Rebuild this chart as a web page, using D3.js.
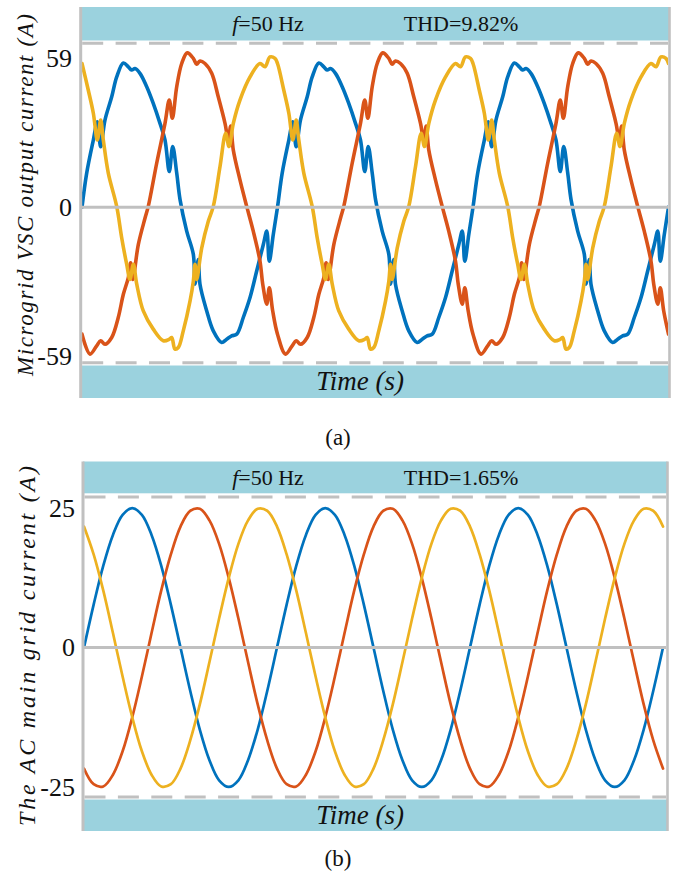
<!DOCTYPE html>
<html>
<head>
<meta charset="utf-8">
<script src="https://cdn.jsdelivr.net/npm/d3@7"></script>
<style>
  html, body { margin: 0; padding: 0; background: #ffffff; }
  svg { display: block; }
  text { font-family: "Liberation Serif", "Times New Roman", serif; fill: #111; }
</style>
</head>
<body>
<svg id="fig" width="673" height="874"></svg>
<script>
// ---------- data ----------
// (a) microgrid VSC phase currents, [time (ms), current (A)]
const vscPhaseA = [
  [0,0],[0.48,13.5],[1.16,26.6],[1.57,33.8],[1.91,23.9],[2.35,34.5],[3.04,43.7],[3.55,51.6],[4.23,57.1],[4.74,55.6],[5.08,54.3],[5.42,54.9],[5.93,53],[6.62,47.7],[7.29,41.1],[7.98,33.2],[8.49,26.6],[8.93,14.1],[9.28,24],[9.69,13.5],[10.03,3],[10.71,-9.5],[11.39,-18.7],[11.56,-30.5],[11.9,-20.7],[12.07,-30.5],[12.76,-41.1],[13.43,-49],[14.29,-53.6],[14.8,-52.3],[15.31,-51],[15.83,-50.3],[16.5,-43.7],[17.19,-35.8],[17.87,-25.3],[18.55,-14.8],[18.9,-9.5],[19.16,-21.4],[19.57,-10.8],
  [20,0],[20.48,13.5],[21.16,26.6],[21.57,33.8],[21.91,23.9],[22.35,34.5],[23.04,43.7],[23.55,51.6],[24.23,57.1],[24.74,55.6],[25.08,54.3],[25.42,54.9],[25.93,53],[26.62,47.7],[27.29,41.1],[27.98,33.2],[28.49,26.6],[28.93,14.1],[29.28,24],[29.69,13.5],[30.03,3],[30.71,-9.5],[31.39,-18.7],[31.56,-30.5],[31.9,-20.7],[32.07,-30.5],[32.76,-41.1],[33.43,-49],[34.29,-53.6],[34.8,-52.3],[35.31,-51],[35.83,-50.3],[36.5,-43.7],[37.19,-35.8],[37.87,-25.3],[38.55,-14.8],[38.9,-9.5],[39.16,-21.4],[39.57,-10.8],
  [40,0],[40.48,13.5],[41.16,26.6],[41.57,33.8],[41.91,23.9],[42.35,34.5],[43.04,43.7],[43.55,51.6],[44.23,57.1],[44.74,55.6],[45.08,54.3],[45.42,54.9],[45.93,53],[46.62,47.7],[47.29,41.1],[47.98,33.2],[48.49,26.6],[48.93,14.1],[49.28,24],[49.69,13.5],[50.03,3],[50.71,-9.5],[51.39,-18.7],[51.56,-30.5],[51.9,-20.7],[52.07,-30.5],[52.76,-41.1],[53.43,-49],[54.29,-53.6],[54.8,-52.3],[55.31,-51],[55.83,-50.3],[56.5,-43.7],[57.19,-35.8],[57.87,-25.3],[58.55,-14.8],[58.9,-9.5],[59.16,-21.4],[59.57,-10.8],[60,0]
];
const vscPhaseB = [
  [0,-50.3],[0.82,-58.2],[1.5,-54.9],[1.91,-52.9],[2.35,-54.3],[3.04,-51.6],[3.71,-43.7],[4.23,-34.5],[4.74,-27.9],[4.98,-22],[5.19,-28.6],[5.76,-14.8],[6.45,-4.3],[6.78,0.3],[7.64,17.4],[8.49,33.2],[8.93,42.4],[9.24,35.2],[9.69,47.7],[10.2,56.9],[10.77,61.1],[11.39,58.9],[11.73,56.6],[12.07,57.9],[12.58,56.9],[13.27,53],[13.94,43.7],[14.63,33.2],[14.97,26.6],[15.21,32.1],[15.48,22.6],[16.16,10.8],[16.85,0.3],[17.52,-9.5],[18.21,-21.4],[18.49,-30.5],[18.9,-38.4],[19.16,-31.9],[19.51,-41.1],
  [20,-50.3],[20.82,-58.2],[21.5,-54.9],[21.91,-52.9],[22.35,-54.3],[23.04,-51.6],[23.71,-43.7],[24.23,-34.5],[24.74,-27.9],[24.98,-22],[25.19,-28.6],[25.76,-14.8],[26.45,-4.3],[26.78,0.3],[27.64,17.4],[28.49,33.2],[28.93,42.4],[29.24,35.2],[29.69,47.7],[30.2,56.9],[30.77,61.1],[31.39,58.9],[31.73,56.6],[32.07,57.9],[32.58,56.9],[33.27,53],[33.94,43.7],[34.63,33.2],[34.97,26.6],[35.21,32.1],[35.48,22.6],[36.16,10.8],[36.85,0.3],[37.52,-9.5],[38.21,-21.4],[38.49,-30.5],[38.9,-38.4],[39.16,-31.9],[39.51,-41.1],
  [40,-50.3],[40.82,-58.2],[41.5,-54.9],[41.91,-52.9],[42.35,-54.3],[43.04,-51.6],[43.71,-43.7],[44.23,-34.5],[44.74,-27.9],[44.98,-22],[45.19,-28.6],[45.76,-14.8],[46.45,-4.3],[46.78,0.3],[47.64,17.4],[48.49,33.2],[48.93,42.4],[49.24,35.2],[49.69,47.7],[50.2,56.9],[50.77,61.1],[51.39,58.9],[51.73,56.6],[52.07,57.9],[52.58,56.9],[53.27,53],[53.94,43.7],[54.63,33.2],[54.97,26.6],[55.21,32.1],[55.48,22.6],[56.16,10.8],[56.85,0.3],[57.52,-9.5],[58.21,-21.4],[58.49,-30.5],[58.9,-38.4],[59.16,-31.9],[59.51,-41.1],[60,-50.3]
];
const vscPhaseC = [
  [0,56.9],[0.64,46.4],[1.16,37.2],[1.57,26.6],[1.91,34.5],[2.18,26.6],[2.69,13.5],[3.55,0.3],[4.06,-12.1],[4.57,-22.6],[4.91,-28.6],[5.25,-22.6],[5.6,-30.5],[6.27,-41.1],[7.29,-48.3],[8.32,-52.9],[8.93,-52.3],[9.18,-51.6],[9.51,-56.2],[9.85,-55.6],[10.36,-49],[11.05,-37.2],[11.39,-29.3],[11.56,-22.6],[11.73,-28.6],[12.25,-16.1],[12.92,-5.6],[13.43,0.3],[14.12,16.1],[14.7,29.3],[15.04,24],[15.48,33.2],[16.16,42.4],[17.19,51.6],[18.21,56.9],[18.72,55.6],[19.23,59.5],[19.74,58.9],
  [20,56.9],[20.64,46.4],[21.16,37.2],[21.57,26.6],[21.91,34.5],[22.18,26.6],[22.69,13.5],[23.55,0.3],[24.06,-12.1],[24.57,-22.6],[24.91,-28.6],[25.25,-22.6],[25.6,-30.5],[26.27,-41.1],[27.29,-48.3],[28.32,-52.9],[28.93,-52.3],[29.18,-51.6],[29.51,-56.2],[29.85,-55.6],[30.36,-49],[31.05,-37.2],[31.39,-29.3],[31.56,-22.6],[31.73,-28.6],[32.25,-16.1],[32.92,-5.6],[33.43,0.3],[34.12,16.1],[34.7,29.3],[35.04,24],[35.48,33.2],[36.16,42.4],[37.19,51.6],[38.21,56.9],[38.72,55.6],[39.23,59.5],[39.74,58.9],
  [40,56.9],[40.64,46.4],[41.16,37.2],[41.57,26.6],[41.91,34.5],[42.18,26.6],[42.69,13.5],[43.55,0.3],[44.06,-12.1],[44.57,-22.6],[44.91,-28.6],[45.25,-22.6],[45.6,-30.5],[46.27,-41.1],[47.29,-48.3],[48.32,-52.9],[48.93,-52.3],[49.18,-51.6],[49.51,-56.2],[49.85,-55.6],[50.36,-49],[51.05,-37.2],[51.39,-29.3],[51.56,-22.6],[51.73,-28.6],[52.25,-16.1],[52.92,-5.6],[53.43,0.3],[54.12,16.1],[54.7,29.3],[55.04,24],[55.48,33.2],[56.16,42.4],[57.19,51.6],[58.21,56.9],[58.72,55.6],[59.23,59.5],[59.74,58.9],[60,56.9]
];

// (b) AC main grid phase currents, one sample per millisecond (A)
const gridPhaseA = [
  0,7.7,14.7,20.2,23.8,25,23.8,20.2,14.7,7.7,0,-7.7,-14.7,-20.2,-23.8,-25,-23.8,-20.2,-14.7,-7.7,
  0,7.7,14.7,20.2,23.8,25,23.8,20.2,14.7,7.7,0,-7.7,-14.7,-20.2,-23.8,-25,-23.8,-20.2,-14.7,-7.7,
  0,7.7,14.7,20.2,23.8,25,23.8,20.2,14.7,7.7,0,-7.7,-14.7,-20.2,-23.8,-25,-23.8,-20.2,-14.7,-7.7,
  0
];
const gridPhaseB = [
  -21.7,-24.5,-24.9,-22.8,-18.6,-12.5,-5.2,2.6,10.2,16.7,21.7,24.5,24.9,22.8,18.6,12.5,5.2,-2.6,-10.2,-16.7,
  -21.7,-24.5,-24.9,-22.8,-18.6,-12.5,-5.2,2.6,10.2,16.7,21.7,24.5,24.9,22.8,18.6,12.5,5.2,-2.6,-10.2,-16.7,
  -21.7,-24.5,-24.9,-22.8,-18.6,-12.5,-5.2,2.6,10.2,16.7,21.7,24.5,24.9,22.8,18.6,12.5,5.2,-2.6,-10.2,-16.7,
  -21.7
];
const gridPhaseC = [
  21.7,16.7,10.2,2.6,-5.2,-12.5,-18.6,-22.8,-24.9,-24.5,-21.7,-16.7,-10.2,-2.6,5.2,12.5,18.6,22.8,24.9,24.5,
  21.7,16.7,10.2,2.6,-5.2,-12.5,-18.6,-22.8,-24.9,-24.5,-21.7,-16.7,-10.2,-2.6,5.2,12.5,18.6,22.8,24.9,24.5,
  21.7,16.7,10.2,2.6,-5.2,-12.5,-18.6,-22.8,-24.9,-24.5,-21.7,-16.7,-10.2,-2.6,5.2,12.5,18.6,22.8,24.9,24.5,
  21.7
];

// tick labels on the current axes
const vscTicks = [59, 0, -59];
const gridTicks = [25, 0, -25];

// header annotations
const frequencyLabel = "=50 Hz";
const thdLabels = ["THD=9.82%", "THD=1.65%"];
const axisTitles = ["Microgrid VSC output current (A)", "The AC main grid current (A)"];
const captions = ["(a)", "(b)"];

// ---------- drawing ----------
const svg = d3.select("#fig");
const phaseColours = ["#0072BD", "#D95319", "#EDB120"];
const bandFill = "#9bd2de";
const rule = "#c0c0c0";

const toPairs = arr => arr.map((v, i) => [i, v]);   // one sample per ms

const panels = [
  {
    id: "a",
    series: [vscPhaseA, vscPhaseB, vscPhaseC],
    ticks: vscTicks, thd: thdLabels[0], title: axisTitles[0], caption: captions[0],
    yDomain: [-61.6, 64.9],
    left: 80.7, right: 669.5, xRange: [82, 668.5],
    headTop: 7, headBottom: 40.5, plotTop: 43.3, plotBottom: 362.7,
    footTop: 365.5, footBottom: 398, captionY: 437,
    lineWidth: 3.6, curve: d3.curveCatmullRom.alpha(0.5),
    tickRight: 72, titleX: 33, titleY: 195, titleLen: 362, titleSize: 23
  },
  {
    id: "b",
    series: [toPairs(gridPhaseA), toPairs(gridPhaseB), toPairs(gridPhaseC)],
    ticks: gridTicks, thd: thdLabels[1], title: axisTitles[1], caption: captions[1],
    yDomain: [-26.8, 27],
    left: 83, right: 667.5, xRange: [84, 663],
    headTop: 461.5, headBottom: 493.3, plotTop: 497, plotBottom: 797,
    footTop: 799.5, footBottom: 831, captionY: 858,
    lineWidth: 2.7, curve: d3.curveCatmullRom.alpha(0.5),
    tickRight: 75, titleX: 35, titleY: 646, titleLen: 360, titleSize: 24
  }
];

panels.forEach(p => {
  const g = svg.append("g").attr("class", "panel-" + p.id);
  const x = d3.scaleLinear().domain([0, 60]).range(p.xRange);
  const y = d3.scaleLinear().domain(p.yDomain).range([p.plotBottom, p.plotTop]);

  // header and footer bands
  g.append("rect").attr("x", p.left).attr("y", p.headTop)
    .attr("width", p.right - p.left).attr("height", p.headBottom - p.headTop).attr("fill", bandFill);
  g.append("rect").attr("x", p.left).attr("y", p.footTop)
    .attr("width", p.right - p.left).attr("height", p.footBottom - p.footTop).attr("fill", bandFill);

  // dashed limit lines at the ends of the current range
  p.yDomain.forEach(v => {
    g.append("line").attr("x1", p.left + 1.5).attr("x2", p.right - 1.5)
      .attr("y1", y(v)).attr("y2", y(v))
      .attr("stroke", rule).attr("stroke-width", 3).attr("stroke-dasharray", "21,12.4");
  });

  // phase currents
  const clipId = "clip-" + p.id;
  g.append("clipPath").attr("id", clipId).append("rect")
    .attr("x", p.left).attr("y", p.plotTop - 5)
    .attr("width", p.right - p.left - 1.5).attr("height", p.plotBottom - p.plotTop + 10);
  const line = d3.line().x(d => x(d[0])).y(d => y(d[1])).curve(p.curve);
  g.append("g").attr("clip-path", `url(#${clipId})`)
    .selectAll("path").data(p.series).join("path")
    .attr("d", line).attr("fill", "none")
    .attr("stroke", (d, i) => phaseColours[i])
    .attr("stroke-width", p.lineWidth)
    .attr("stroke-linejoin", "round").attr("stroke-linecap", "round");

  // zero line, left axis and right frame edge
  g.append("line").attr("x1", p.left).attr("x2", p.right - 1.5)
    .attr("y1", y(0)).attr("y2", y(0)).attr("stroke", rule).attr("stroke-width", 3);
  g.append("line").attr("x1", p.left).attr("x2", p.left)
    .attr("y1", p.headTop).attr("y2", p.footBottom).attr("stroke", rule).attr("stroke-width", 3);
  g.append("line").attr("x1", p.right).attr("x2", p.right)
    .attr("y1", p.headTop).attr("y2", p.footBottom).attr("stroke", rule).attr("stroke-width", 2.6);

  // tick labels
  g.selectAll("text.tick").data(p.ticks).join("text").attr("class", "tick")
    .attr("x", p.tickRight).attr("y", d => y(d))
    .attr("dy", "0.34em").attr("text-anchor", "end")
    .style("font-size", "26px").text(d => d);

  // header annotation
  const headY = (p.headTop + p.headBottom) / 2;
  const f = g.append("text").attr("x", 268).attr("y", headY).attr("dy", "0.34em")
    .attr("text-anchor", "middle").style("font-size", "22px");
  f.append("tspan").style("font-style", "italic").text("f");
  f.append("tspan").text(frequencyLabel);
  g.append("text").attr("x", 461).attr("y", headY).attr("dy", "0.34em")
    .attr("text-anchor", "middle").style("font-size", "22px").text(p.thd);

  // time label in the footer band
  g.append("text").attr("x", 360).attr("y", (p.footTop + p.footBottom) / 2).attr("dy", "0.32em")
    .attr("text-anchor", "middle").style("font-size", "27px").style("font-style", "italic")
    .text("Time (s)");

  // vertical axis title
  g.append("text")
    .attr("transform", `translate(${p.titleX},${p.titleY}) rotate(-90)`)
    .attr("text-anchor", "middle").style("font-size", p.titleSize + "px").style("font-style", "italic")
    .attr("textLength", p.titleLen).attr("lengthAdjust", "spacing")
    .text(p.title);

  // sub-figure caption
  svg.append("text").attr("x", 338).attr("y", p.captionY).attr("dy", "0.34em")
    .attr("text-anchor", "middle").style("font-size", "23px").text(p.caption);
});
</script>
</body>
</html>
